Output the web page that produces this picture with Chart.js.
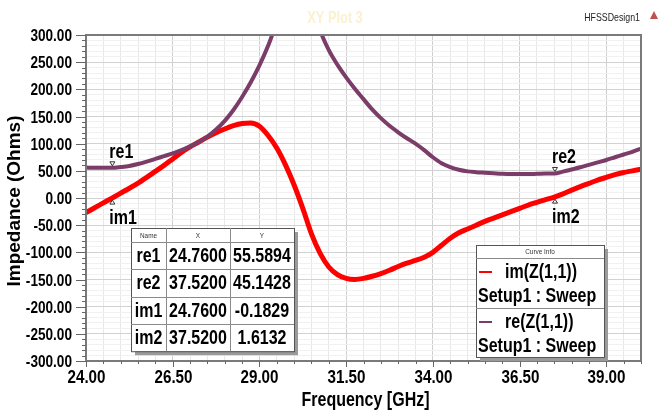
<!DOCTYPE html>
<html>
<head>
<meta charset="utf-8">
<title>XY Plot 3</title>
<script src="https://cdn.jsdelivr.net/npm/chart.js@4.4.1/dist/chart.umd.min.js"></script>
<style>
  html, body { margin: 0; padding: 0; background: #fff; }
  #wrap { width: 659px; height: 410px; }
</style>
</head>
<body>
<div id="wrap"><canvas id="plot" width="659" height="410"></canvas></div>
<script>
// ─── Data: Z(1,1) sweep, Setup1 ───────────────────────────────────
const freqs = [
  24.00, 24.25, 24.50, 24.75, 25.00, 25.25, 25.50, 25.75,
  26.00, 26.25, 26.50, 26.75, 27.00, 27.25, 27.50, 27.75,
  28.00, 28.25, 28.50, 28.75, 29.00, 29.25, 29.50, 29.75,
  30.00, 30.25, 30.50, 30.75, 31.00, 31.25, 31.50, 31.75,
  32.00, 32.25, 32.50, 32.75, 33.00, 33.25, 33.50, 33.75,
  34.00, 34.25, 34.50, 34.75, 35.00, 35.25, 35.50, 35.75,
  36.00, 36.25, 36.50, 36.75, 37.00, 37.25, 37.50, 37.75,
  38.00, 38.25, 38.50, 38.75, 39.00, 39.25, 39.50, 39.75, 40.00
];

// re(Z(1,1)) in Ohms
const reZ = [
   56.0,  55.5,  55.5,  55.6,  57.0,  59.0,  62.5,  67.0,
   72.0,  77.0,  82.0,  88.0,  95.0, 103.0, 113.0, 126.0,
  142.0, 162.0, 186.0, 213.0, 244.0, 280.0, 323.0, 360.0,
  385.0, 385.0, 355.0, 308.0, 272.0, 245.0, 222.0, 201.0,
  182.0, 163.0, 147.0, 133.0, 121.0, 110.0, 100.0,  88.0,
   75.0,  64.0,  57.0,  52.0,  49.0,  47.5,  46.5,  45.5,
   44.5,  44.0,  44.0,  44.0,  44.5,  45.0,  45.1,  48.5,
   52.5,  56.5,  61.0,  65.5,  70.0,  75.0,  80.0,  85.0,  91.0
];

// im(Z(1,1)) in Ohms
const imZ = [
  -27.0, -18.0,  -9.0,  -0.2,   9.0,  18.0,  27.5,  38.0,
   49.0,  60.0,  72.0,  84.0,  94.0, 103.0, 112.0, 120.0,
  127.0, 133.0, 137.0, 138.0, 132.0, 115.0,  92.0,  61.0,
   24.0, -19.0, -66.0, -102.0, -127.0, -141.0, -148.0, -150.0,
  -148.0, -144.0, -139.0, -133.0, -126.0, -120.0, -115.0, -109.0,
  -100.0, -87.0, -74.0, -64.0, -57.0, -50.0, -43.0, -37.0,
  -31.0, -25.0, -19.0, -13.0,  -8.0,  -3.0,   1.6,   7.5,
   14.5,  21.0,  27.0,  33.0,  38.0,  43.0,  47.0,  50.0,  53.0
];

// Marker table
const markerNames = ["re1", "re2", "im1", "im2"];
const markerX     = [24.76, 37.52, 24.76, 37.52];
const markerY     = [55.5894, 45.1428, -0.1829, 1.6132];

// Curve info entries
const curveNames  = ["im(Z(1,1))", "re(Z(1,1))"];
const curveSetup  = "Setup1 : Sweep";

const RE_COLOR = "#7b3d68";
const IM_COLOR = "#ff0000";

const SANS = '"Liberation Sans", Arial, sans-serif';
const SQUEEZE = 0.8;   // condensed look of the horizontal labels

const toPoints = (ys) => freqs.map((f, i) => ({ x: f, y: ys[i] }));
const isMajorX = (v) => Math.abs((v - 24) / 2.5 - Math.round((v - 24) / 2.5)) < 1e-6;
const isMajorY = (v) => Math.abs(v % 50) < 1e-6;

// condensed bold text, drawn squeezed horizontally
function narrowText(ctx, text, x, y, size, align, bold = true) {
  ctx.save();
  ctx.translate(x, y);
  ctx.scale(SQUEEZE, 1);
  ctx.font = (bold ? "bold " : "") + size + "px " + SANS;
  ctx.textAlign = align;
  ctx.fillText(text, 0, 0);
  ctx.restore();
}

function boxWithShadow(ctx, x, y, w, h) {
  ctx.fillStyle = "#9a9a9a";
  ctx.fillRect(x + 4, y + 4, w, h);
  ctx.fillStyle = "#fff";
  ctx.fillRect(x, y, w, h);
  ctx.strokeStyle = "#555";
  ctx.lineWidth = 1;
  ctx.strokeRect(x + 0.5, y + 0.5, w, h);
}

// ─── Decorations: frame, ticks, labels, markers, tables ───────────
const decor = {
  id: "decor",
  beforeDraw(chart) {
    const ctx = chart.ctx;
    ctx.save();
    ctx.fillStyle = "#fff";
    ctx.fillRect(0, 0, chart.width, chart.height);
    ctx.restore();
  },
  afterDraw(chart) {
    const { ctx, chartArea: a, scales } = chart;
    const xs = scales.x, ys = scales.y;
    ctx.save();

    // plot frame
    ctx.strokeStyle = "#7a7a7a";
    ctx.lineWidth = 2;
    ctx.strokeRect(a.left, a.top, a.right - a.left, a.bottom - a.top);

    // axis tick marks and labels
    ctx.strokeStyle = "#666";
    ctx.lineWidth = 1;
    ctx.fillStyle = "#000";
    ctx.textBaseline = "middle";
    ys.ticks.forEach((t) => {
      const py = Math.round(ys.getPixelForValue(t.value)) + 0.5;
      const major = isMajorY(t.value);
      const len = major ? 10 : 4;
      ctx.beginPath();
      ctx.moveTo(a.left - len, py);
      ctx.lineTo(a.left, py);
      ctx.stroke();
      if (major) narrowText(ctx, t.value.toFixed(2), 72, py + 1, 17, "right");
    });
    xs.ticks.forEach((t) => {
      const px = Math.round(xs.getPixelForValue(t.value)) + 0.5;
      const major = isMajorX(t.value);
      const len = major ? 6 : 3;
      ctx.beginPath();
      ctx.moveTo(px, a.bottom);
      ctx.lineTo(px, a.bottom + len);
      ctx.stroke();
      if (major) narrowText(ctx, t.value.toFixed(2), px, a.bottom + 17, 19, "center");
    });

    // axis titles
    narrowText(ctx, "Frequency [GHz]", (a.left + a.right) / 2 + 2, 400, 20, "center");
    ctx.save();
    ctx.translate(15, 201);
    ctx.rotate(-Math.PI / 2);
    ctx.font = "bold 19px " + SANS;
    ctx.textAlign = "center";
    ctx.fillText("Impedance (Ohms)", 0, 0);
    ctx.restore();

    // header texts
    ctx.fillStyle = "#fbf1d2";
    narrowText(ctx, "XY Plot 3", 335, 19, 16, "center");
    ctx.fillStyle = "#222";
    narrowText(ctx, "HFSSDesign1", 640, 18, 11, "right", false);
    ctx.fillStyle = "#c0504d";
    ctx.beginPath();
    ctx.moveTo(654, 11);
    ctx.lineTo(658, 19);
    ctx.lineTo(650, 19);
    ctx.closePath();
    ctx.fill();

    // curve markers
    markerNames.forEach((name, i) => {
      const px = xs.getPixelForValue(markerX[i]);
      const py = ys.getPixelForValue(markerY[i]);
      const isRe = name.startsWith("re");
      ctx.strokeStyle = "#333";
      ctx.fillStyle = "#fff";
      ctx.lineWidth = 1;
      ctx.beginPath();
      if (isRe) {
        ctx.moveTo(px - 2.5, py - 6);
        ctx.lineTo(px + 2.5, py - 6);
        ctx.lineTo(px, py - 2);
      } else {
        ctx.moveTo(px - 2.5, py + 6);
        ctx.lineTo(px + 2.5, py + 6);
        ctx.lineTo(px, py + 2);
      }
      ctx.closePath();
      ctx.fill();
      ctx.stroke();
      ctx.fillStyle = "#000";
      ctx.textBaseline = "alphabetic";
      narrowText(ctx, name, px - 3, isRe ? py - 10 : py + 26, 20, "left");
      ctx.textBaseline = "middle";
    });

    // marker table
    const tx = 131, ty = 228, colW = [35, 64, 64], headH = 14, rowH = 27.3;
    const tw = colW[0] + colW[1] + colW[2];
    const th = headH + rowH * markerNames.length;
    boxWithShadow(ctx, tx, ty, tw, th);
    ctx.strokeStyle = "#8a8a8a";
    ctx.beginPath();
    let cx = tx;
    for (let c = 0; c < 2; c++) {
      cx += colW[c];
      ctx.moveTo(Math.round(cx) + 0.5, ty);
      ctx.lineTo(Math.round(cx) + 0.5, ty + th);
    }
    for (let r = 0; r < markerNames.length; r++) {
      const ly = Math.round(ty + headH + r * rowH) + 0.5;
      ctx.moveTo(tx, ly);
      ctx.lineTo(tx + tw, ly);
    }
    ctx.stroke();
    const colMid = [tx + colW[0] / 2, tx + colW[0] + colW[1] / 2, tx + colW[0] + colW[1] + colW[2] / 2];
    ctx.fillStyle = "#333";
    ["Name", "X", "Y"].forEach((h, c) => narrowText(ctx, h, colMid[c], ty + headH / 2 + 1, 8, "center", false));
    ctx.fillStyle = "#000";
    markerNames.forEach((name, r) => {
      const cy = ty + headH + r * rowH + rowH / 2 + 1;
      narrowText(ctx, name, colMid[0], cy, 20, "center");
      narrowText(ctx, markerX[r].toFixed(4), colMid[1], cy, 20, "center");
      narrowText(ctx, markerY[r].toFixed(4), colMid[2], cy, 20, "center");
    });

    // curve info box
    const bx = 476, by = 245, bw = 128, bh = 112;
    boxWithShadow(ctx, bx, by, bw, bh);
    ctx.strokeStyle = "#8a8a8a";
    ctx.beginPath();
    ctx.moveTo(bx, by + 13.5);
    ctx.lineTo(bx + bw, by + 13.5);
    ctx.moveTo(bx, by + 63.5);
    ctx.lineTo(bx + bw, by + 63.5);
    ctx.stroke();
    ctx.fillStyle = "#333";
    narrowText(ctx, "Curve Info", bx + bw / 2, by + 7, 8, "center", false);
    const colors = [IM_COLOR, RE_COLOR];
    curveNames.forEach((name, i) => {
      const y0 = by + 27 + i * 50;
      ctx.strokeStyle = colors[i];
      ctx.lineWidth = 2;
      ctx.beginPath();
      ctx.moveTo(bx + 3, y0);
      ctx.lineTo(bx + 16, y0);
      ctx.stroke();
      ctx.fillStyle = "#000";
      narrowText(ctx, name, bx + 29, y0, 20, "left");
      narrowText(ctx, curveSetup, bx + 2, y0 + 24, 20, "left");
    });

    ctx.restore();
  },
};

// ─── Chart ────────────────────────────────────────────────────────
new Chart(document.getElementById("plot"), {
  type: "line",
  data: {
    datasets: [
      {
        label: "re(Z(1,1))",
        data: toPoints(reZ),
        borderColor: RE_COLOR,
        borderWidth: 4,
        pointRadius: 0,
        cubicInterpolationMode: "monotone",
        clip: 0,
      },
      {
        label: "im(Z(1,1))",
        data: toPoints(imZ),
        borderColor: IM_COLOR,
        borderWidth: 5,
        pointRadius: 0,
        cubicInterpolationMode: "monotone",
        clip: 0,
      },
    ],
  },
  options: {
    responsive: false,
    animation: false,
    devicePixelRatio: 1,
    layout: { padding: { left: 0, right: 18, top: 35, bottom: 0 } },
    plugins: { legend: { display: false }, tooltip: { enabled: false }, title: { display: false } },
    scales: {
      x: {
        type: "linear",
        min: 24,
        max: 40,
        afterFit: (s) => { s.height = 49; },
        border: { display: false },
        grid: {
          drawTicks: false,
          color: (c) => (c.tick && isMajorX(c.tick.value) ? "#cfcfcf" : "#e8e8e8"),
        },
        ticks: { stepSize: 0.5, autoSkip: false, display: false },
      },
      y: {
        min: -300,
        max: 300,
        afterFit: (s) => { s.width = 86; },
        border: { display: false },
        grid: {
          drawTicks: false,
          color: (c) => (c.tick && isMajorY(c.tick.value) ? "#d2d2d2" : "#f1f1f1"),
        },
        ticks: { stepSize: 10, autoSkip: false, display: false },
      },
    },
  },
  plugins: [decor],
});
</script>
</body>
</html>
